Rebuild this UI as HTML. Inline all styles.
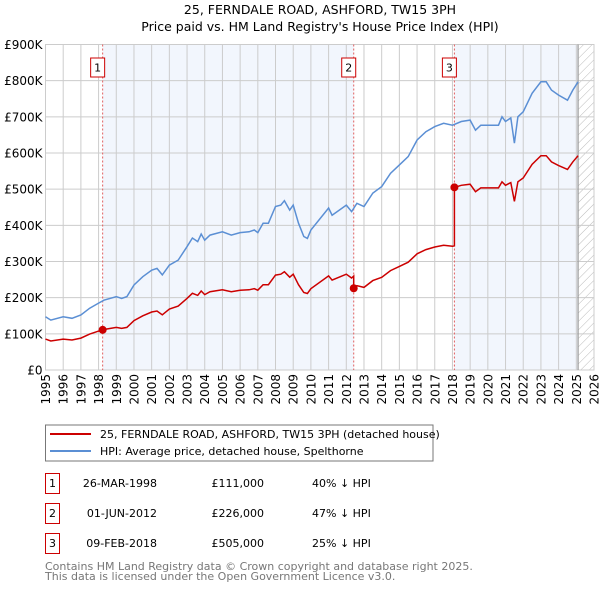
<!DOCTYPE html>
<html><head><meta charset="utf-8"><style>
body{margin:0;background:#fff;width:600px;height:590px;overflow:hidden}
svg text{font-family:"DejaVu Sans","Liberation Sans",sans-serif}
</style></head><body>
<svg id="c" width="600" height="590" xmlns="http://www.w3.org/2000/svg">
<defs><pattern id="h" width="6" height="6" patternUnits="userSpaceOnUse" patternTransform="rotate(45)"><line x1="0" y1="0" x2="0" y2="6" stroke="#bbb" stroke-width="1"/></pattern></defs>
<text x="320" y="14" font-size="12.5" text-anchor="middle">25, FERNDALE ROAD, ASHFORD, TW15 3PH</text>
<text x="320" y="31" font-size="12.5" text-anchor="middle">Price paid vs. HM Land Registry's House Price Index (HPI)</text>
<g id="plot"></g>
<rect x="45.5" y="425" width="387.5" height="36" fill="#fff" stroke="#777"/>
<line x1="50" y1="434" x2="91" y2="434" stroke="#cc0000" stroke-width="2"/>
<text x="100" y="438" font-size="11">25, FERNDALE ROAD, ASHFORD, TW15 3PH (detached house)</text>
<line x1="50" y1="451" x2="91" y2="451" stroke="#5b8fd4" stroke-width="2"/>
<text x="100" y="455" font-size="11">HPI: Average price, detached house, Spelthorne</text>
<g id="table" font-size="11"></g>
<text x="45" y="570" font-size="11" fill="#777">Contains HM Land Registry data © Crown copyright and database right 2025.</text>
<text x="45" y="580" font-size="11" fill="#777">This data is licensed under the Open Government Licence v3.0.</text>
</svg>
<script>
const hpiYears=[1995,1995.3,1996,1996.5,1997,1997.5,1998,1998.3,1999,1999.3,1999.6,2000,2000.5,2001,2001.3,2001.6,2002,2002.5,2003,2003.3,2003.6,2003.8,2004,2004.3,2005,2005.5,2006,2006.5,2006.8,2007,2007.3,2007.6,2008,2008.3,2008.5,2008.8,2009,2009.3,2009.6,2009.8,2010,2011,2011.2,2012,2012.3,2012.6,2013,2013.5,2014,2014.5,2015,2015.5,2016,2016.5,2017,2017.5,2018,2018.5,2019,2019.3,2019.6,2020,2020.6,2020.8,2021,2021.3,2021.5,2021.7,2022,2022.5,2023,2023.3,2023.6,2024,2024.5,2024.8,2025.1];
const hpiValues=[147,138,147,143,152,171,185,193,203,198,203,235,258,276,281,263,290,304,341,365,355,376,359,373,382,373,380,382,387,380,406,406,452,456,468,442,456,406,369,364,387,448,428,456,438,461,452,489,507,544,567,590,636,659,673,682,677,687,691,663,677,677,677,700,687,697,627,700,714,765,797,797,774,760,746,774,797];
const saleLabels=["1","2","3"];
const saleDates=[1998.23,2012.42,2018.11];
const salePrices=[111,226,505];
const saleDateText=["26-MAR-1998","01-JUN-2012","09-FEB-2018"];
const salePriceText=["£111,000","£226,000","£505,000"];
const saleDiffText=["40% ↓ HPI","47% ↓ HPI","25% ↓ HPI"];
const yTicks=[0,100,200,300,400,500,600,700,800,900];
const yTickLabels=["£0","£100K","£200K","£300K","£400K","£500K","£600K","£700K","£800K","£900K"];
const xTicks=[1995,1996,1997,1998,1999,2000,2001,2002,2003,2004,2005,2006,2007,2008,2009,2010,2011,2012,2013,2014,2015,2016,2017,2018,2019,2020,2021,2022,2023,2024,2025,2026];
const X0=45.5,X1=594,Y0=370,Y1=44.5,xmin=1995,xmax=2026,ymax=900,dataEnd=2025.1;
const sx=v=>X0+(v-xmin)/(xmax-xmin)*(X1-X0);
const sy=v=>Y0-v/ymax*(Y0-Y1);
const NS="http://www.w3.org/2000/svg";
const plot=document.getElementById('plot');
function mk(t,a,p){const e=document.createElementNS(NS,t);for(const k in a)e.setAttribute(k,a[k]);(p||plot).appendChild(e);return e;}
function hpiAt(t){if(t<=hpiYears[0])return hpiValues[0];for(let i=1;i<hpiYears.length;i++){if(t<=hpiYears[i]){const f=(t-hpiYears[i-1])/(hpiYears[i]-hpiYears[i-1]);return hpiValues[i-1]+f*(hpiValues[i]-hpiValues[i-1]);}}return hpiValues[hpiValues.length-1];}
// background
let bg=mk('rect',{x:X0,y:Y1,width:X1-X0,height:Y0-Y1,fill:'#fff',stroke:'#ccc'});


const shadeSegs=[[saleDates[0],saleDates[1]],[saleDates[2],dataEnd]];
shadeSegs.forEach(s=>{const r=mk('rect',{x:sx(s[0]),y:Y1,width:sx(s[1])-sx(s[0]),height:Y0-Y1,fill:'#f2f6fd'});

});
const hr=mk('rect',{x:sx(dataEnd),y:Y1,width:X1-sx(dataEnd),height:Y0-Y1,fill:'url(#h)'});


yTicks.forEach((v,i)=>{const l=mk('line',{x1:X0,x2:X1,y1:sy(v),y2:sy(v),stroke:'#ccc'});


const t=mk('text',{x:X0-3,y:sy(v)+4.5,'font-size':12,'text-anchor':'end'});t.textContent=yTickLabels[i];

});
xTicks.forEach(v=>{const l=mk('line',{x1:sx(v),x2:sx(v),y1:Y1,y2:Y0,stroke:'#ccc'});


const t=mk('text',{transform:`translate(${sx(v)+4.5},${Y0+4}) rotate(-90)`,'font-size':12,'text-anchor':'end'});t.textContent=v;

});
const el=mk('line',{x1:sx(dataEnd),x2:sx(dataEnd),y1:Y1,y2:Y0,stroke:'#999','stroke-width':1.2});


// sale markers
saleDates.forEach((d,i)=>{const l=mk('line',{x1:sx(d),x2:sx(d),y1:Y1,y2:Y0,stroke:'#e06060','stroke-dasharray':'2,2'});


const b=mk('rect',{x:sx(d)-12,y:58,width:14,height:19,fill:'#fff',stroke:'#cc0000'});


const t=mk('text',{x:sx(d)-5,y:71.5,'font-size':11,'text-anchor':'middle'});t.textContent=saleLabels[i];

});
// hpi line
let d='';hpiYears.forEach((y,i)=>{d+=(i?'L':'M')+sx(y).toFixed(1)+','+sy(hpiValues[i]).toFixed(1);});
const hp=mk('path',{d:d,fill:'none',stroke:'#5b8fd4','stroke-width':1.5});


// property line: indexed from sales
function factorAt(t){let k=0;for(let i=0;i<saleDates.length;i++)if(t>=saleDates[i])k=i;return salePrices[k]/hpiAt(saleDates[k]);}
let pts=[];hpiYears.forEach((y,i)=>{pts.push([y,hpiValues[i]*factorAt(y)]);});
saleDates.forEach((s,i)=>{if(i>0)pts.push([s-0.001,hpiAt(s)*factorAt(s-0.01)]);pts.push([s,salePrices[i]]);});
pts.sort((a,b)=>a[0]-b[0]);
d='';pts.forEach((p,i)=>{d+=(i?'L':'M')+sx(p[0]).toFixed(1)+','+sy(p[1]).toFixed(1);});
const pp=mk('path',{d:d,fill:'none',stroke:'#cc0000','stroke-width':1.5});


saleDates.forEach((s,i)=>{const c=mk('circle',{cx:sx(s),cy:sy(salePrices[i]),r:4,fill:'#cc0000'});

});
// table
const tb=document.getElementById('table');
saleDates.forEach((s,i)=>{const cy=483+i*30;
const b=mk('rect',{x:45.5,y:cy-9.5,width:14,height:20,fill:'none',stroke:'#cc0000'},tb);


const cols=[[52.5,saleLabels[i],'middle','table-number'],[157,saleDateText[i],'end','table-date'],[264,salePriceText[i],'end','table-price'],[312,saleDiffText[i],'start','table-hpi-diff']];
cols.forEach(c=>{const t=mk('text',{x:c[0],y:cy+4,'text-anchor':c[2]},tb);t.textContent=c[1];

});});
</script>
</body></html>
